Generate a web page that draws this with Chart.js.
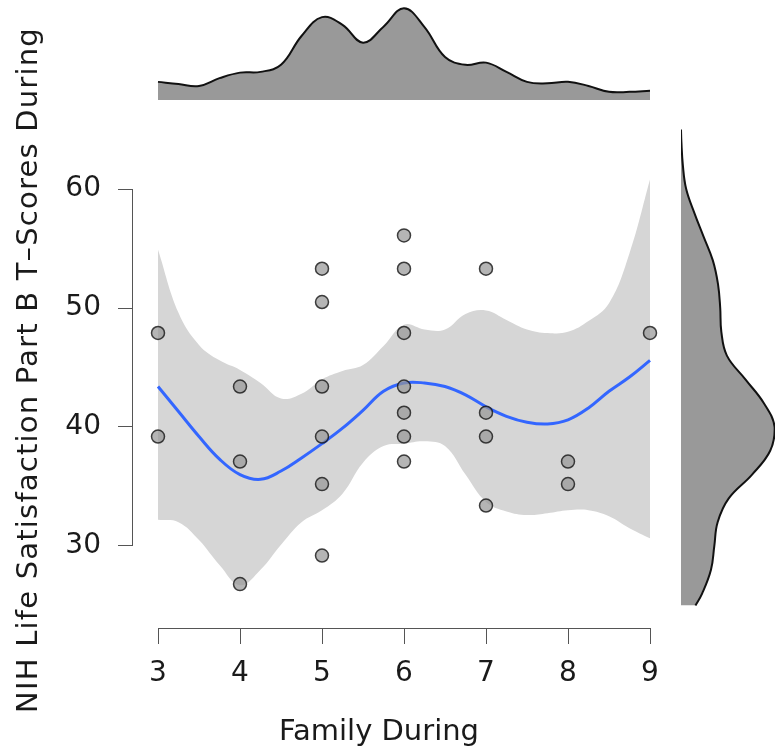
<!DOCTYPE html>
<html>
<head>
<meta charset="utf-8">
<script src="https://cdn.jsdelivr.net/npm/chart.js@4.4.1/dist/chart.umd.min.js"></script>
<style>
  html, body { margin: 0; padding: 0; background: #fff; }
  #wrap { position: relative; width: 775px; height: 754px; }
  #wrap canvas { position: absolute; left: 0; top: 0; }
</style>
</head>
<body>
<div id="wrap">
  <canvas id="main" width="775" height="754"></canvas>
  <canvas id="topDens" width="775" height="754"></canvas>
  <canvas id="rightDens" width="775" height="754"></canvas>
</div>
<script>
// --- dados do gráfico ---
const xTitle = 'Family During';
const yTitle = 'NIH Life Satisfaction Part B T\u2013Scores During';
const xTicks = [3, 4, 5, 6, 7, 8, 9];
const yTicks = [30, 40, 50, 60];

// pontos observados
const famX  = [3, 3, 4, 4, 4, 5, 5, 5, 5, 5, 5, 6, 6, 6, 6, 6, 6, 6, 7, 7, 7, 7, 8, 8, 9];
const lifeY = [47.9, 39.2, 43.4, 37.1, 26.8, 53.3, 50.5, 43.4, 39.2, 35.2, 29.2,
               56.1, 53.3, 47.9, 43.4, 41.2, 39.2, 37.1, 53.3, 41.2, 39.2, 33.4, 37.1, 35.2, 47.9];

// curva loess + intervalo de confiança
const smoothX   = [3, 3.25, 3.5, 3.75, 4, 4.25, 4.5, 4.75, 5, 5.25, 5.5, 5.75, 6,
                   6.25, 6.5, 6.75, 7, 7.25, 7.5, 7.75, 8, 8.25, 8.5, 8.75, 9];
const smoothFit = [43.4, 41.3, 39.2, 37.3, 36.0, 35.6, 36.3, 37.4, 38.6, 39.9, 41.4, 43.0, 43.7,
                   43.7, 43.4, 42.7, 41.7, 40.9, 40.4, 40.25, 40.6, 41.6, 43.0, 44.2, 45.6];
const smoothHi  = [54.9, 49.6, 46.9, 45.6, 44.8, 43.7, 42.4, 42.8, 44.0, 44.7, 45.2, 46.8, 48.6,
                   48.2, 48.2, 49.5, 49.8, 49.0, 48.2, 47.9, 48.0, 48.9, 50.4, 54.6, 60.8];
const smoothLo  = [32.2, 32.0, 30.5, 28.4, 26.7, 28.0, 30.1, 32.0, 33.0, 34.4, 37.0, 38.4, 38.6,
                   38.8, 38.4, 36.0, 33.7, 32.9, 32.6, 32.75, 33.0, 33.0, 32.5, 31.5, 30.65];

// densidade marginal de cima (Family During)
const topDensX = [3, 3.25, 3.5, 3.75, 4, 4.25, 4.5, 4.75, 5, 5.25, 5.5, 5.75, 6,
                  6.25, 6.5, 6.75, 7, 7.25, 7.5, 7.75, 8, 8.25, 8.5, 8.75, 9];
const topDens  = [0.049, 0.043, 0.038, 0.059, 0.074, 0.076, 0.095, 0.173, 0.224, 0.203, 0.155, 0.198, 0.248,
                  0.197, 0.116, 0.095, 0.101, 0.076, 0.049, 0.045, 0.049, 0.038, 0.022, 0.022, 0.025];

// densidade marginal da direita (T-Scores)
const rightDensY = [65, 64, 62, 60, 58, 56, 54, 52, 50, 48, 46, 44, 42, 40, 38, 36, 34, 32, 30, 28, 26, 25];
const rightDens  = [0, 0.001, 0.005, 0.014, 0.036, 0.061, 0.086, 0.100, 0.106, 0.109, 0.124, 0.174,
                    0.224, 0.253, 0.241, 0.192, 0.129, 0.099, 0.090, 0.081, 0.057, 0.039];

// --- estilo ---
const fontFamily = '"DejaVu Sans", sans-serif';
const textColor = '#1a1a1a';
const axisColor = '#555555';
const curveTension = 0.4;

// limites dos eixos (iguais nos três gráficos para alinhar)
const xMin = 2.6951, xMax = 9.2439;
const yMin = 23.109, yMax = 62.185;

const pairs = (xs, ys) => xs.map((v, i) => ({ x: v, y: ys[i] }));

// plugin: linha do eixo só entre os ticks (estilo R) + títulos
const rAxes = {
  id: 'rAxes',
  afterDraw(chart) {
    const { ctx, chartArea } = chart;
    const sx = chart.scales.x, sy = chart.scales.y;
    ctx.save();
    ctx.strokeStyle = axisColor;
    ctx.lineWidth = 1;
    ctx.beginPath();
    const yb = Math.round(chartArea.bottom) + 0.5;
    ctx.moveTo(sx.getPixelForValue(xTicks[0]), yb);
    ctx.lineTo(sx.getPixelForValue(xTicks[xTicks.length - 1]), yb);
    const xl = Math.round(chartArea.left) - 0.5;
    ctx.moveTo(xl, sy.getPixelForValue(yTicks[0]));
    ctx.lineTo(xl, sy.getPixelForValue(yTicks[yTicks.length - 1]));
    ctx.stroke();

    ctx.fillStyle = textColor;
    ctx.font = '29px ' + fontFamily;
    ctx.textAlign = 'center';
    ctx.textBaseline = 'alphabetic';
    ctx.fillText(xTitle, 379, 740);
    ctx.translate(37, 370);
    ctx.rotate(-Math.PI / 2);
    ctx.letterSpacing = '1.2px';
    ctx.fillText(yTitle, 0, 0);
    ctx.restore();
  }
};

// --- gráfico principal ---
new Chart(document.getElementById('main').getContext('2d'), {
  type: 'line',
  data: {
    datasets: [
      {
        label: 'pontos',
        data: pairs(famX, lifeY),
        showLine: false,
        pointRadius: 6.5,
        pointBorderWidth: 1.5,
        pointBackgroundColor: 'rgba(150,150,150,0.7)',
        pointBorderColor: 'rgba(20,20,20,0.8)',
        order: 0
      },
      {
        label: 'loess',
        data: pairs(smoothX, smoothFit),
        borderColor: '#3366FF',
        borderWidth: 3,
        pointRadius: 0,
        tension: curveTension,
        fill: false,
        order: 1
      },
      {
        label: 'ic superior',
        data: pairs(smoothX, smoothHi),
        borderWidth: 0,
        borderColor: 'rgba(0,0,0,0)',
        pointRadius: 0,
        tension: curveTension,
        backgroundColor: '#d6d6d6',
        fill: '+1',
        order: 2
      },
      {
        label: 'ic inferior',
        data: pairs(smoothX, smoothLo),
        borderWidth: 0,
        borderColor: 'rgba(0,0,0,0)',
        pointRadius: 0,
        tension: curveTension,
        fill: false,
        order: 3
      }
    ]
  },
  options: {
    responsive: false,
    animation: false,
    events: [],
    layout: { padding: { left: 0, top: 163, right: 105, bottom: 0 } },
    plugins: { legend: { display: false }, tooltip: { enabled: false } },
    scales: {
      x: {
        type: 'linear',
        min: xMin, max: xMax,
        afterFit: s => { s.height = 126; },
        afterBuildTicks: s => { s.ticks = xTicks.map(v => ({ value: v })); },
        ticks: { color: textColor, font: { family: fontFamily, size: 28 }, padding: 13, maxRotation: 0, autoSkip: false },
        grid: { drawOnChartArea: false, drawTicks: true, tickLength: 16, color: axisColor },
        border: { display: false }
      },
      y: {
        type: 'linear',
        min: yMin, max: yMax,
        afterFit: s => { s.width = 133; },
        afterBuildTicks: s => { s.ticks = yTicks.map(v => ({ value: v })); },
        ticks: { color: textColor, font: { family: fontFamily, size: 28 }, padding: 17 },
        grid: { drawOnChartArea: false, drawTicks: true, tickLength: 15, color: axisColor },
        border: { display: false }
      }
    }
  },
  plugins: [rAxes]
});

// --- densidade de cima ---
new Chart(document.getElementById('topDens').getContext('2d'), {
  type: 'line',
  data: {
    datasets: [{
      data: pairs(topDensX, topDens),
      borderColor: '#111111',
      borderWidth: 2,
      backgroundColor: '#999999',
      fill: 'origin',
      pointRadius: 0,
      tension: curveTension
    }]
  },
  options: {
    responsive: false,
    animation: false,
    events: [],
    layout: { padding: { left: 133, top: 0, right: 105, bottom: 654 } },
    plugins: { legend: { display: false }, tooltip: { enabled: false } },
    scales: {
      x: { type: 'linear', min: xMin, max: xMax, display: false },
      y: { type: 'linear', min: 0, max: 0.2703, display: false }
    }
  }
});

// --- densidade da direita ---
new Chart(document.getElementById('rightDens').getContext('2d'), {
  type: 'line',
  data: {
    datasets: [{
      data: pairs(rightDens, rightDensY),
      borderColor: '#111111',
      borderWidth: 2,
      backgroundColor: '#999999',
      fill: 'origin',
      pointRadius: 0,
      tension: curveTension
    }]
  },
  options: {
    indexAxis: 'y',
    responsive: false,
    animation: false,
    events: [],
    layout: { padding: { left: 681, top: 120, right: 0, bottom: 126 } },
    plugins: { legend: { display: false }, tooltip: { enabled: false } },
    scales: {
      x: { type: 'linear', min: 0, max: 0.254, display: false },
      y: { type: 'linear', min: yMin, max: 65.798, display: false }
    }
  }
});
</script>
</body>
</html>
